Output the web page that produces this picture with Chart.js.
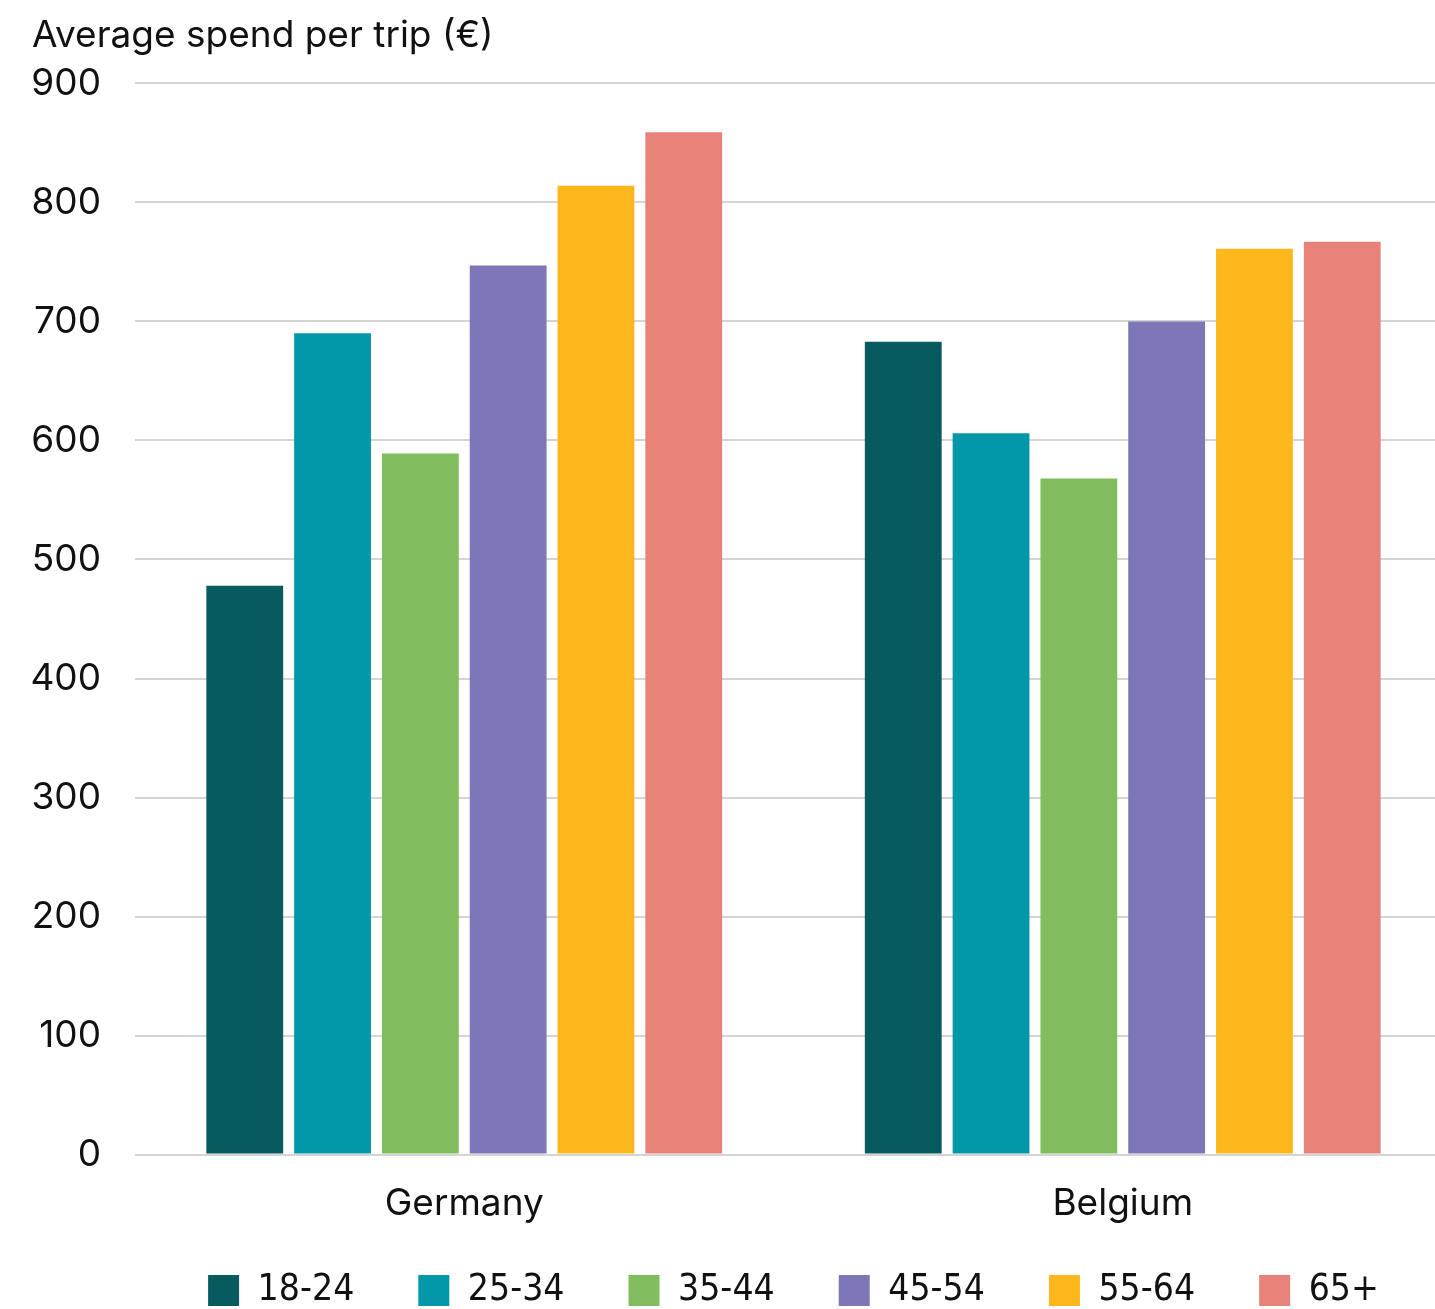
<!DOCTYPE html>
<html>
<head>
<meta charset="utf-8">
<script src="https://cdn.jsdelivr.net/npm/chart.js@4.4.1/dist/chart.umd.min.js"></script>
<style>
  html, body { margin: 0; padding: 0; background: #ffffff; overflow: hidden; }
  #wrap { position: relative; width: 1452px; height: 1364px; }
</style>
</head>
<body>
<div id="wrap"><canvas id="chart"></canvas></div>
<script>
// Average spend per trip by age group, per country
const countries = ['Germany', 'Belgium'];
const ageGroups = ['18-24', '25-34', '35-44', '45-54', '55-64', '65+'];
const spend18to24 = [478, 683];
const spend25to34 = [690, 606];
const spend35to44 = [589, 568];
const spend45to54 = [747, 700];
const spend55to64 = [814, 761];
const spend65plus = [859, 767];
const yTicks = [0, 100, 200, 300, 400, 500, 600, 700, 800, 900];

const seriesValues = [spend18to24, spend25to34, spend35to44, spend45to54, spend55to64, spend65plus];
const palette = ['#075b5e', '#0398a9', '#80bd5f', '#7d77b8', '#fdb71c', '#e88279'];

const datasets = ageGroups.map((label, i) => ({
  label: label,
  data: seriesValues[i],
  backgroundColor: palette[i],
  borderWidth: 0,
  barPercentage: 0.875,
  categoryPercentage: 0.8
}));

const sansFont = "Inter, 'Open Sans', sans-serif";

// Pull the legend row closer to the category labels
const legendLift = {
  id: 'legendLift',
  afterLayout(chart) {
    const lg = chart.legend;
    if (lg) { lg.top -= 45; lg.bottom -= 45; }
  }
};

new Chart(document.getElementById('chart'), {
  type: 'bar',
  data: { labels: countries, datasets: datasets },
  plugins: [legendLift],
  options: {
    responsive: true,
    maintainAspectRatio: false,
    animation: false,
    layout: { padding: { left: 32, right: 0, top: 0, bottom: 0 } },
    plugins: {
      title: {
        display: true,
        text: 'Average spend per trip (€)',
        align: 'start',
        color: '#111111',
        font: { family: sansFont, size: 37, weight: 'normal' },
        padding: { top: 14, bottom: 25 }
      },
      legend: {
        position: 'bottom',
        fullSize: false,
        labels: {
          boxWidth: 31,
          boxHeight: 31,
          padding: 64,
          color: '#111111',
          font: { family: "'Liberation Sans Narrow', 'DejaVu Sans Condensed', sans-serif", size: 37 }
        }
      },
      tooltip: { enabled: false }
    },
    scales: {
      x: {
        grid: { display: false, drawTicks: false },
        border: { display: false },
        ticks: {
          color: '#111111',
          padding: 27,
          font: { family: sansFont, size: 37 }
        }
      },
      y: {
        min: 0,
        max: 900,
        afterBuildTicks: (axis) => { axis.ticks = yTicks.map(v => ({ value: v })); },
        afterFit: (axis) => { axis.width = 103; },
        grid: { color: '#d4d4d4', lineWidth: 2, drawTicks: false },
        border: { display: false },
        ticks: {
          color: '#111111',
          padding: 34,
          font: { family: sansFont, size: 37 }
        }
      }
    }
  }
});
</script>
</body>
</html>
